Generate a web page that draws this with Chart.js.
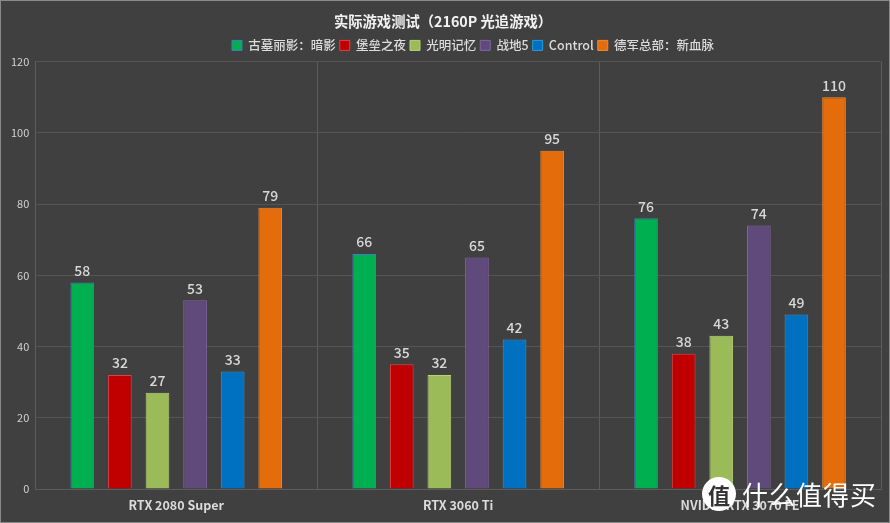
<!DOCTYPE html>
<html><head><meta charset="utf-8">
<script src="https://cdn.jsdelivr.net/npm/chart.js@4.4.0/dist/chart.umd.min.js"></script>
<style>
html,body{margin:0;padding:0;background:#404040;}
#wrap{width:888px;height:521px;border:1px solid #8a8a8a;position:relative;}
canvas{display:block;}
#wm{position:absolute;right:12px;bottom:10px;display:flex;align-items:center;font-family:"Noto Sans CJK SC";color:#fff;}
#wm .c{width:34px;height:34px;border-radius:50%;background:#fff;color:#333;font-size:22px;line-height:34px;text-align:center;font-weight:bold;margin-right:6px;}
#wm .t{font-size:26px;letter-spacing:1px;}
</style></head>
<body>
<div id="wrap"><canvas id="c" width="888" height="521"></canvas>
<div id="wm"><div class="c">值</div><div class="t">什么值得买</div></div></div>
<script>
const categories = ["RTX 2080 Super", "RTX 3060 Ti", "NVIDIA RTX 3070 FE"];
const seriesNames = ["古墓丽影：暗影", "堡垒之夜", "光明记忆", "战地5", "Control", "德军总部：新血脉"];
const tombRaider = [58, 66, 76];
const fortnite = [32, 35, 38];
const brightMemory = [27, 32, 43];
const battlefield5 = [53, 65, 74];
const control = [33, 42, 49];
const wolfenstein = [79, 95, 110];
const yTicks = [0, 20, 40, 60, 80, 100, 120];

const colors = ["#00B050", "#C00000", "#9BBB59", "#604A7B", "#0070C0", "#E46C0A"];
const borders = ["#3d7fc0", "#e04040", "#b6d27a", "#8066a0", "#2a9ad8", "#f08a30"];
const values = [tombRaider, fortnite, brightMemory, battlefield5, control, wolfenstein];

const FONT = '"Noto Sans CJK SC", "Noto Sans", sans-serif';

const labelPlugin = {
  id: 'vals',
  afterLayout(chart) {
    if (chart.legend) { chart.legend.left += 30; chart.legend.right += 30; }
  },
  afterDatasetsDraw(chart) {
    const ctx = chart.ctx;
    ctx.save();
    ctx.font = '500 14px ' + FONT;
    ctx.fillStyle = '#d8d8d8';
    ctx.textAlign = 'center';
    ctx.textBaseline = 'bottom';
    chart.data.datasets.forEach((ds, i) => {
      const meta = chart.getDatasetMeta(i);
      meta.data.forEach((bar, j) => {
        ctx.fillText(String(ds.data[j]), bar.x, bar.y - 5);
      });
    });
    ctx.restore();
  }
};

new Chart(document.getElementById('c'), {
  type: 'bar',
  data: {
    labels: categories,
    datasets: seriesNames.map((n, i) => ({
      label: n,
      data: values[i],
      backgroundColor: colors[i],
      borderColor: borders[i],
      borderWidth: 1,
      categoryPercentage: 0.8,
      barPercentage: 0.63
    }))
  },
  options: {
    responsive: false,
    animation: false,
    layout: { padding: { left: 4, right: 8, top: 8, bottom: 0 } },
    plugins: {
      title: {
        display: true,
        text: '实际游戏测试（2160P 光追游戏）',
        color: '#f2f2f2',
        font: { family: FONT, size: 14.3, weight: 'bold' },
        padding: { top: 4, bottom: 5 }
      },
      legend: {
        display: true,
        labels: {
          color: '#dcdcdc',
          font: { family: FONT, size: 12.5, weight: '500' },
          boxWidth: 10,
          boxHeight: 10,
          padding: 4
        }
      },
      tooltip: { enabled: false }
    },
    scales: {
      x: {
        ticks: { color: '#dcdcdc', font: { family: FONT, size: 12.5, weight: 'bold' }, padding: 9 },
        grid: { color: '#5c5c5c', drawTicks: false },
        border: { color: '#5c5c5c' }
      },
      y: {
        min: 0, max: 120,
        afterBuildTicks(axis) { axis.ticks = yTicks.map(v => ({ value: v })); },
        ticks: { color: '#d0d0d0', font: { family: FONT, size: 11 }, padding: 6 },
        grid: { color: '#555555', drawTicks: false },
        border: { color: '#5c5c5c' }
      }
    }
  },
  plugins: [labelPlugin]
});
</script>
</body></html>
